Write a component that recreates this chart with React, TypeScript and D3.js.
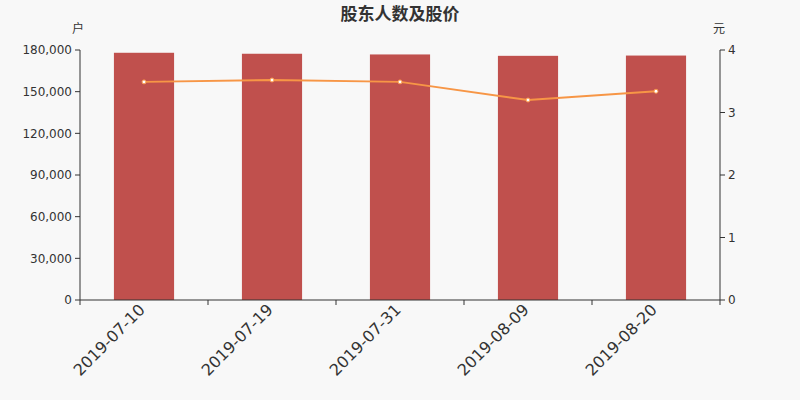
import * as d3 from "d3";

const dates = ["2019-07-10", "2019-07-19", "2019-07-31", "2019-08-09", "2019-08-20"];
const holders = [178000, 177300, 176800, 175800, 176000];
const prices = [3.49, 3.52, 3.49, 3.2, 3.34];
const leftTicks = [0, 30000, 60000, 90000, 120000, 150000, 180000];
const rightTicks = [0, 1, 2, 3, 4];

const W = 800;
const H = 400;
const m = { top: 50, right: 80, bottom: 100, left: 80 };
const font = "'DejaVu Sans', 'Noto Sans CJK SC', sans-serif";
const cjk = "'Noto Sans CJK SC', sans-serif";

export default function App() {
  const x = d3.scaleBand<string>().domain(dates).range([m.left, W - m.right]).paddingInner(0).paddingOuter(0);
  const yL = d3.scaleLinear().domain([0, 180000]).range([H - m.bottom, m.top]);
  const yR = d3.scaleLinear().domain([0, 4]).range([H - m.bottom, m.top]);
  const barW = x.bandwidth() * 0.47;
  const cx = (d: string) => x(d)! + x.bandwidth() / 2;
  const line = d3
    .line<number>()
    .x((_, i) => cx(dates[i]))
    .y((d) => yR(d));
  const fmt = d3.format(",");
  const base = H - m.bottom;

  return (
    <svg width={W} height={H} style={{ position: "absolute", left: 0, top: 0, background: "#f8f8f8", fontFamily: font }}>
      <rect width={W} height={H} fill="#f8f8f8" />
      <text x={W / 2} y={20} textAnchor="middle" fontSize={17} fontWeight="bold" fill="#333" fontFamily={cjk}>
        股东人数及股价
      </text>
      <text x={78} y={33} textAnchor="middle" fontSize={12} fill="#333" fontFamily={cjk}>户</text>
      <text x={719} y={33} textAnchor="middle" fontSize={12} fill="#333" fontFamily={cjk}>元</text>

      {dates.map((d, i) => (
        <rect key={d} x={cx(d) - barW / 2} y={yL(holders[i])} width={barW} height={base - yL(holders[i])} fill="#c0504d" />
      ))}

      <path d={line(prices) ?? ""} fill="none" stroke="#f79646" strokeWidth={2} />
      {prices.map((p, i) => (
        <circle key={i} cx={cx(dates[i])} cy={yR(p)} r={2} fill="#fff" stroke="#f79646" strokeWidth={1} />
      ))}

      {/* left axis */}
      <line x1={m.left} x2={m.left} y1={m.top} y2={base} stroke="#333" />
      {leftTicks.map((t) => (
        <g key={t}>
          <line x1={m.left - 5} x2={m.left} y1={yL(t)} y2={yL(t)} stroke="#333" />
          <text x={m.left - 8} y={yL(t)} dy="0.35em" textAnchor="end" fontSize={12} fill="#333">
            {fmt(t)}
          </text>
        </g>
      ))}

      {/* right axis */}
      <line x1={W - m.right} x2={W - m.right} y1={m.top} y2={base} stroke="#333" />
      {rightTicks.map((t) => (
        <g key={t}>
          <line x1={W - m.right} x2={W - m.right + 5} y1={yR(t)} y2={yR(t)} stroke="#333" />
          <text x={W - m.right + 8} y={yR(t)} dy="0.35em" textAnchor="start" fontSize={12} fill="#333">
            {t}
          </text>
        </g>
      ))}

      {/* bottom axis */}
      <line x1={m.left} x2={W - m.right} y1={base} y2={base} stroke="#333" />
      {[...dates.map((d) => x(d)!), W - m.right].map((px, i) => (
        <line key={i} x1={px} x2={px} y1={base} y2={base + 5} stroke="#333" />
      ))}
      {dates.map((d) => (
        <text
          key={d}
          transform={`translate(${cx(d) - 6},${base + 3}) rotate(-45)`}
          textAnchor="end"
          dy="0.7em"
          fontSize={16}
          fill="#333"
        >
          {d}
        </text>
      ))}
    </svg>
  );
}
